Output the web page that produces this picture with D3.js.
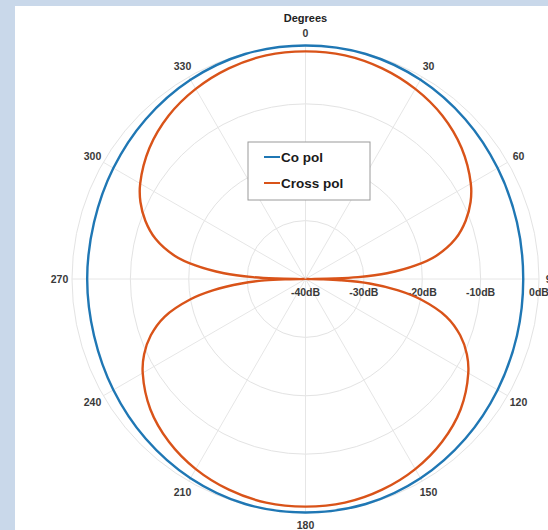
<!DOCTYPE html>
<html>
<head>
<meta charset="utf-8">
<script src="https://cdn.jsdelivr.net/npm/d3@7"></script>
<style>
  html, body { margin: 0; padding: 0; background: #c9d8ea; }
  svg { display: block; }
</style>
</head>
<body>
<script>
// Radiation pattern, values in dB at angles measured clockwise from 0 (top)
const coPolAngles = [0, 15, 30, 45, 60, 75, 90, 105, 120, 135, 150, 165,
                     180, 195, 210, 225, 240, 255, 270, 285, 300, 315, 330, 345];
const coPolDb = [0, -0.1, -0.6, -1.3, -2.0, -2.5, -2.7, -2.5, -2.0, -1.3, -0.6, -0.1,
                 0, -0.1, -0.6, -1.3, -2.0, -2.5, -2.6, -2.5, -2.0, -1.3, -0.6, -0.1];

const crossPolAngles = [0, 10, 20, 30, 40, 50, 60, 65, 70, 75, 80, 83, 86, 88, 89, 90,
                        91, 92, 94, 97, 100, 105, 110, 115, 120, 130, 140, 150, 160, 170,
                        180, 190, 200, 210, 220, 230, 240, 245, 250, 255, 260, 263, 266, 268, 269, 270,
                        271, 272, 274, 277, 280, 285, 290, 295, 300, 310, 320, 330, 340, 350];
const crossPolDb = [-1.0, -1.1, -1.6, -2.4, -3.5, -5.1, -7.3, -8.8, -10.8, -13.4, -17.3, -21, -26, -31, -35, -40,
                    -37, -34, -29, -24, -20, -15, -11.8, -9.5, -7.8, -5.3, -3.6, -2.4, -1.6, -1.1,
                    -1.0, -1.1, -1.6, -2.4, -3.6, -5.3, -7.8, -9.5, -11.8, -15, -20, -24, -29, -33, -37, -40,
                    -35, -31, -26, -21, -17.3, -13.4, -10.8, -8.8, -7.3, -5.1, -3.5, -2.4, -1.6, -1.1];

const ringDb = [-40, -30, -20, -10, 0];
const ringLabels = ["-40dB", "-30dB", "-20dB", "-10dB", "0dB"];
const spokeAngles = [0, 30, 60, 90, 120, 150, 180, 210, 240, 270, 300, 330];
const seriesNames = ["Co pol", "Cross pol"];
const seriesColors = ["#1f77b4", "#d95319"];

const W = 548, H = 530;
const cx = 305.5, cy = 279;
const R = 233.5;

const svg = d3.select("body").append("svg").attr("width", W).attr("height", H);

// white panel
svg.append("rect").attr("x", 15).attr("y", 6).attr("width", W - 15).attr("height", H - 6)
  .attr("fill", "#ffffff");

const g = svg.append("g").attr("transform", `translate(${cx},${cy})`);
const r = d3.scaleLinear().domain([-40, 0]).range([0, R]);
const rad = d => d * Math.PI / 180;

// grid rings
g.selectAll("circle.ring").data(ringDb.filter(d => d > -40)).join("circle")
  .attr("class", "ring").attr("r", d => r(d))
  .attr("fill", "none").attr("stroke", "#e3e3e3").attr("stroke-width", 1);

// spokes
g.selectAll("line.spoke").data(spokeAngles).join("line")
  .attr("class", "spoke")
  .attr("x1", 0).attr("y1", 0)
  .attr("x2", d => r(0) * Math.sin(rad(d)))
  .attr("y2", d => -r(0) * Math.cos(rad(d)))
  .attr("stroke", "#e6e6e6").attr("stroke-width", 1);

// angle labels
const labelR = 246;
g.selectAll("text.ang").data(spokeAngles).join("text")
  .attr("class", "ang")
  .attr("x", d => labelR * Math.sin(rad(d)))
  .attr("y", d => -labelR * Math.cos(rad(d)))
  .attr("dy", "0.35em")
  .attr("text-anchor", "middle")
  .attr("font-family", "Liberation Sans, Arial, sans-serif")
  .attr("font-weight", "bold").attr("font-size", 10.5).attr("fill", "#3a3a3a")
  .text(d => d);

// title
svg.append("text").attr("x", cx).attr("y", 22).attr("text-anchor", "middle")
  .attr("font-family", "Liberation Sans, Arial, sans-serif")
  .attr("font-weight", "bold").attr("font-size", 11).attr("fill", "#222")
  .text("Degrees");

// radial dB labels along the 90° spoke
g.selectAll("text.db").data(ringDb).join("text")
  .attr("class", "db")
  .attr("x", d => r(d)).attr("y", 13)
  .attr("dy", "0.35em").attr("text-anchor", "middle")
  .attr("font-family", "Liberation Sans, Arial, sans-serif")
  .attr("font-weight", "bold").attr("font-size", 10.5).attr("fill", "#3a3a3a")
  .text((d, i) => ringLabels[i]);

const radial = d3.lineRadial()
  .angle(d => rad(d[0]))
  .radius(d => r(d[1]))
  .curve(d3.curveCatmullRomClosed.alpha(0.5));

const coPts = coPolAngles.map((a, i) => [a, coPolDb[i]]);
const crossPts = crossPolAngles.map((a, i) => [a, crossPolDb[i]]);

g.append("path").attr("d", radial(crossPts))
  .attr("fill", "none").attr("stroke", seriesColors[1]).attr("stroke-width", 2.4);
g.append("path").attr("d", radial(coPts))
  .attr("fill", "none").attr("stroke", seriesColors[0]).attr("stroke-width", 2.4);

// legend
const lg = svg.append("g").attr("transform", "translate(248,142)");
lg.append("rect").attr("width", 122).attr("height", 58)
  .attr("fill", "#fff").attr("stroke", "#9a9a9a").attr("stroke-width", 1);
seriesNames.forEach((name, i) => {
  const y = 15 + i * 26;
  lg.append("line").attr("x1", 16).attr("x2", 32).attr("y1", y).attr("y2", y)
    .attr("stroke", seriesColors[i]).attr("stroke-width", 2);
  lg.append("text").attr("x", 33).attr("y", y).attr("dy", "0.35em")
    .attr("font-family", "Liberation Sans, Arial, sans-serif")
    .attr("font-weight", "bold").attr("font-size", 13.5).attr("fill", "#1a1a1a")
    .text(name);
});
</script>
</body>
</html>
